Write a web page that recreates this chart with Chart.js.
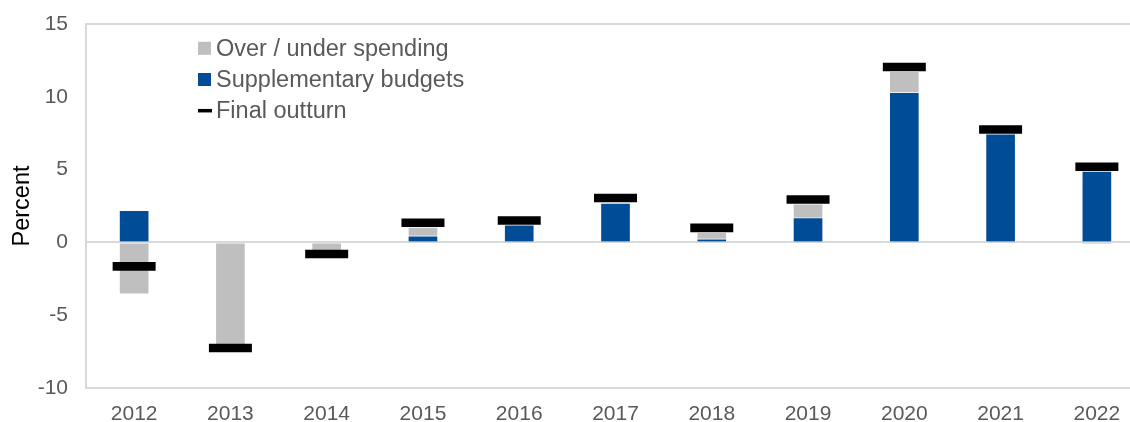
<!DOCTYPE html>
<html>
<head>
<meta charset="utf-8">
<script src="https://cdn.jsdelivr.net/npm/chart.js@4/dist/chart.umd.min.js"></script>
<style>
  html, body { margin: 0; padding: 0; background: #fff; overflow: hidden; }
  canvas { display: block; }
</style>
</head>
<body>
<canvas id="chart" width="1146" height="422" style="width:1146px;height:422px"></canvas>
<script>
// Fiscal years on the category axis
const years = ['2012', '2013', '2014', '2015', '2016', '2017', '2018', '2019', '2020', '2021', '2022'];

// Supplementary budgets, percent (null where there was none)
const supplementary = [2.2, null, null, 0.45, 1.2, 2.7, 0.25, 1.7, 10.3, 7.45, 4.9];

// Over / under spending, percent (null where there was none)
const overUnder = [-3.55, -7.1, -0.6, 0.6, null, null, 0.45, 0.95, 1.45, null, -0.1];

// Final outturn, percent
const finalOutturn = [-1.65, -7.25, -0.8, 1.35, 1.5, 3.05, 1.0, 2.95, 12.05, 7.75, 5.2];

// Value axis ticks
const yTicks = [-10, -5, 0, 5, 10, 15];

const BLUE = '#004C97';
const GREY = '#BFBFBF';
const FRAME = '#D9D9D9';
const TEXT = '#595959';
const FONT = "'Liberation Sans', Arial, sans-serif";

// Legend drawn inside the plot area, top-left
const insideLegend = {
  id: 'insideLegend',
  afterDraw(chart) {
    const ctx = chart.ctx;
    const ds = chart.data.datasets;
    const rows = [
      { label: ds[2].label, kind: 'box', color: GREY, y: 48.3 },
      { label: ds[1].label, kind: 'box', color: BLUE, y: 79.5 },
      { label: ds[0].label, kind: 'dash', color: '#000', y: 110.7 }
    ];
    ctx.save();
    ctx.font = '23.5px ' + FONT;
    ctx.textBaseline = 'middle';
    ctx.textAlign = 'left';
    rows.forEach(r => {
      ctx.fillStyle = r.color;
      if (r.kind === 'box') {
        ctx.fillRect(198, r.y - 6.5, 13, 13);
      } else {
        ctx.fillRect(198, r.y - 1.75, 14, 3.5);
      }
      ctx.fillStyle = TEXT;
      ctx.fillText(r.label, 216, r.y + 1);
    });
    ctx.restore();
  }
};

new Chart(document.getElementById('chart'), {
  data: {
    labels: years,
    datasets: [
      {
        type: 'line',
        label: 'Final outturn',
        data: finalOutturn,
        showLine: false,
        clip: false,
        pointStyle: 'line',
        pointRadius: 21.5,
        pointHoverRadius: 21.5,
        pointBorderWidth: 8.6,
        pointHoverBorderWidth: 8.6,
        pointBorderColor: '#000',
        pointBackgroundColor: '#000',
        order: 0
      },
      {
        type: 'bar',
        label: 'Supplementary budgets',
        data: supplementary,
        backgroundColor: BLUE,
        borderColor: 'rgba(255,255,255,0.3)',
        borderWidth: 1,
        barThickness: 30,
        order: 1
      },
      {
        type: 'bar',
        label: 'Over / under spending',
        data: overUnder,
        backgroundColor: GREY,
        borderColor: 'rgba(255,255,255,0.3)',
        borderWidth: 1,
        barThickness: 30,
        order: 2
      }
    ]
  },
  options: {
    responsive: false,
    animation: false,
    layout: { autoPadding: false, padding: { top: 24, right: 1, left: 0, bottom: 0 } },
    plugins: {
      legend: { display: false },
      tooltip: { enabled: false }
    },
    scales: {
      x: {
        stacked: true,
        grid: { display: false, drawTicks: false },
        border: { display: true, color: FRAME, width: 2 },
        ticks: {
          color: TEXT,
          font: { family: FONT, size: 21 },
          padding: 14,
          maxRotation: 0
        },
        afterFit(scale) { scale.height = 34; }
      },
      y: {
        stacked: true,
        min: -10,
        max: 15,
        afterBuildTicks(scale) { scale.ticks = yTicks.map(v => ({ value: v })); },
        grid: {
          drawTicks: false,
          lineWidth: 2,
          color: ctx => (ctx.tick && (ctx.tick.value === 0 || ctx.tick.value === 15)) ? FRAME : 'rgba(0,0,0,0)'
        },
        border: { display: true, color: FRAME, width: 2 },
        ticks: {
          color: TEXT,
          font: { family: FONT, size: 21 },
          padding: 18
        },
        title: {
          display: true,
          text: 'Percent',
          color: '#000',
          font: { family: FONT, size: 23.5 },
          padding: { top: 8, bottom: 0 }
        },
        afterFit(scale) {
          scale.width = 86;
          scale.paddingTop = 0;
          scale.paddingBottom = 0;
        }
      }
    }
  },
  plugins: [insideLegend]
});
</script>
</body>
</html>
